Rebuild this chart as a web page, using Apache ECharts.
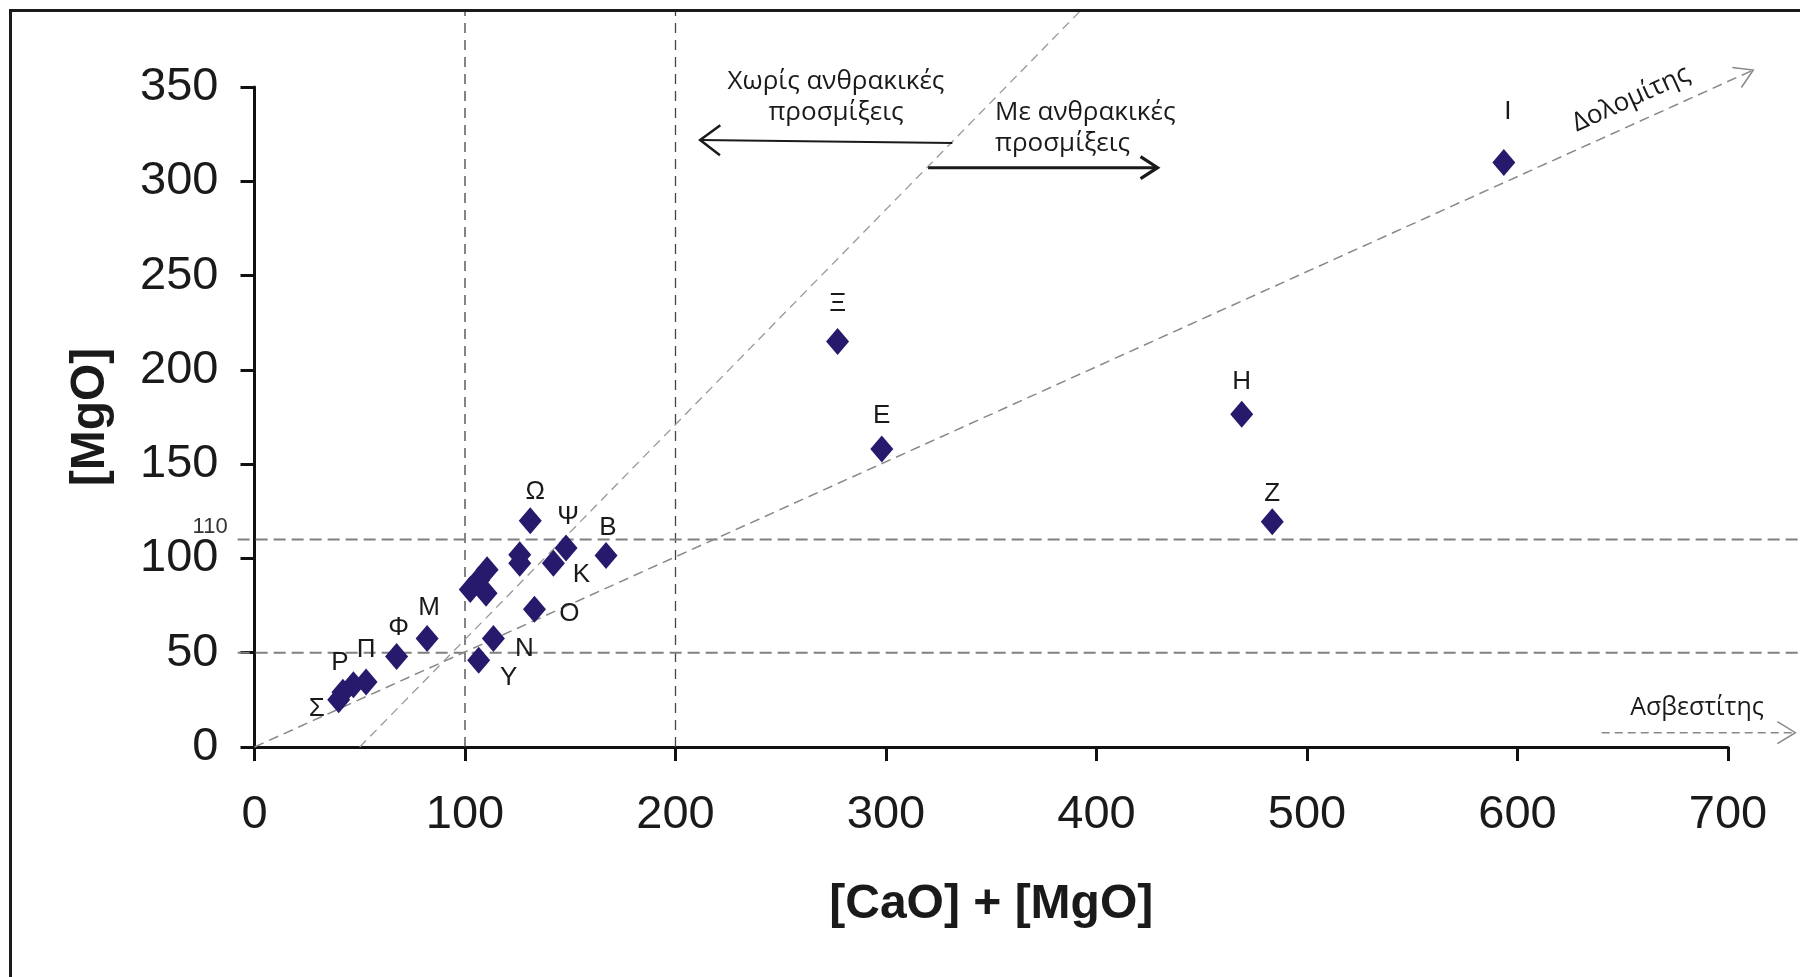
<!DOCTYPE html>
<html>
<head>
<meta charset="utf-8">
<script src="https://cdn.jsdelivr.net/npm/echarts@6/dist/echarts.min.js"></script>
<style>
  html, body { margin: 0; padding: 0; background: #ffffff; }
  #chart { width: 1800px; height: 977px; }
</style>
</head>
<body>
<div id="chart"></div>
<script>
// Samples: [CaO] + [MgO] (x) against [MgO] (y)
const sampleNames = ['Ω', 'Ψ', 'Β', 'Κ', 'Ο', 'Ν', 'Υ', 'Μ', 'Φ', 'Π', 'Ρ', 'Σ',
                     'Ξ', 'Ε', 'Η', 'Ζ', 'Ι', '', '', '', '', '', '', ''];
const caoPlusMgo  = [131, 148, 167, 142, 133, 113.5, 106.5, 82, 67.5, 53, 42, 40,
                     277, 298, 469, 483.5, 593.5, 47, 126, 126, 110.5, 102.5, 110, 106.5];
const mgoValues   = [120, 105.5, 101.5, 97.5, 73, 57.5, 46, 57.5, 48, 34.5, 29, 25,
                     215, 158, 176.5, 119.5, 310, 33, 102, 97.5, 94, 83.5, 81.5, 88.5];

// Axis ranges and tick step
const xRange = [0, 700], xStep = 100;
const yRange = [0, 350], yStep = 50;

// Guide segments, in data units: [x1, y1, x2, y2]
const dolomiteLine       = [[0, 0, 712, 359]];
const carbonateBoundary  = [[50, 0, 392, 390]];
const verticalGuides     = [[100, 0, 100, 390], [200, 0, 200, 390]];
const horizontalGuides   = [[-8, 50, 735, 50], [-8, 110, 735, 110]];
const horizontalLabels   = ['', '110'];
const calciteArrow       = [[640, 7.6, 732, 7.6]];
const withoutCarbArrow   = [[331.5, 320.3, 211.7, 321.9]];
const withCarbArrow      = [[320, 307.2, 429, 307.2]];

// Label offsets (px) around each named marker
const labelOffsets = {
  'Ω': [5, -29], 'Ψ': [2, -31], 'Β': [2, -28], 'Κ': [28, 12], 'Ο': [35, 4],
  'Ν': [31, 10], 'Υ': [30, 18], 'Μ': [2, -31], 'Φ': [2, -29], 'Π': [0, -32],
  'Ρ': [-3, -29], 'Σ': [-22, 9], 'Ξ': [0, -38], 'Ε': [0, -33], 'Η': [0, -32],
  'Ζ': [0, -28], 'Ι': [4, -51]
};

const TEXT = '#1a1a1a';
const AXIS_FONT = '"Liberation Sans", Arial, sans-serif';
const NOTE_FONT = '"Open Sans", "Noto Sans", sans-serif';

function segmentSeries(id, segments, lineStyle, opts) {
  opts = opts || {};
  return {
    type: 'custom',
    id: id,
    silent: true,
    clip: false,
    z: opts.z || 1,
    encode: { x: [0, 2], y: [1, 3] },
    data: segments,
    renderItem: function (params, api) {
      const a = api.coord([api.value(0), api.value(1)]);
      const b = api.coord([api.value(2), api.value(3)]);
      const children = [{
        type: 'line',
        shape: { x1: a[0], y1: a[1], x2: b[0], y2: b[1] },
        style: {
          stroke: lineStyle.color, lineWidth: lineStyle.width,
          lineDash: lineStyle.dash || null, fill: null
        }
      }];
      if (opts.head) {
        const dx = b[0] - a[0], dy = b[1] - a[1];
        const L = Math.sqrt(dx * dx + dy * dy);
        const ux = dx / L, uy = dy / L, nx = -uy, ny = ux;
        const h = opts.head;
        children.push({
          type: 'polyline',
          shape: { points: [
            [b[0] - ux * h.len + nx * h.w, b[1] - uy * h.len + ny * h.w],
            [b[0], b[1]],
            [b[0] - ux * h.len - nx * h.w, b[1] - uy * h.len - ny * h.w]
          ] },
          style: { stroke: lineStyle.color, lineWidth: h.lineWidth || lineStyle.width, fill: null }
        });
      }
      if (opts.labels && opts.labels[params.dataIndex]) {
        children.push({
          type: 'text',
          style: {
            text: opts.labels[params.dataIndex],
            x: a[0] - 10, y: a[1] - 2,
            align: 'right', verticalAlign: 'bottom',
            fontSize: 22, fontFamily: AXIS_FONT, fill: '#333'
          }
        });
      }
      return { type: 'group', children: children };
    }
  };
}

const scatterData = caoPlusMgo.map(function (x, i) {
  const name = sampleNames[i];
  const off = labelOffsets[name];
  return {
    value: [x, mgoValues[i]],
    name: name,
    label: off ? { show: true, position: 'inside', offset: off } : { show: false }
  };
});

const chart = echarts.init(document.getElementById('chart'), null, { renderer: 'canvas' });

chart.setOption({
  backgroundColor: '#ffffff',
  animation: false,
  grid: { left: 254.5, right: 72, top: 87, bottom: 230, containLabel: false },
  xAxis: {
    type: 'value',
    min: xRange[0], max: xRange[1], interval: xStep,
    name: '[CaO] + [MgO]',
    nameLocation: 'middle',
    nameGap: 134,
    nameTextStyle: { fontSize: 48, fontWeight: 'bold', color: TEXT, fontFamily: AXIS_FONT },
    axisLine: { show: true, onZero: false, lineStyle: { color: '#111', width: 3 } },
    axisTick: { show: true, inside: false, length: 14, lineStyle: { color: '#111', width: 3 } },
    axisLabel: { fontSize: 47, color: TEXT, fontFamily: AXIS_FONT, margin: 45 },
    splitLine: { show: false }
  },
  yAxis: {
    type: 'value',
    min: yRange[0], max: yRange[1], interval: yStep,
    name: '[MgO]',
    nameLocation: 'middle',
    nameRotate: 90,
    nameGap: 140,
    nameTextStyle: { fontSize: 48, fontWeight: 'bold', color: TEXT, fontFamily: AXIS_FONT },
    axisLine: { show: true, onZero: false, lineStyle: { color: '#111', width: 3 } },
    axisTick: { show: true, inside: false, length: 14, lineStyle: { color: '#111', width: 3 } },
    axisLabel: { fontSize: 47, color: TEXT, fontFamily: AXIS_FONT, margin: 36 },
    splitLine: { show: false }
  },
  graphic: [
    {
      type: 'rect', silent: true, z: 100,
      shape: { x: 10.5, y: 10.5, width: 1800, height: 1000 },
      style: { fill: null, stroke: '#1a1a1a', lineWidth: 3 }
    },
    {
      type: 'text', silent: true,
      style: {
        text: 'Χωρίς ανθρακικές\nπροσμίξεις', x: 836, y: 97,
        align: 'center', verticalAlign: 'middle', lineHeight: 31,
        fontSize: 26, fontFamily: NOTE_FONT, fill: TEXT
      }
    },
    {
      type: 'text', silent: true,
      style: {
        text: 'Με ανθρακικές\nπροσμίξεις', x: 995, y: 128,
        align: 'left', verticalAlign: 'middle', lineHeight: 31,
        fontSize: 26, fontFamily: NOTE_FONT, fill: TEXT
      }
    },
    {
      type: 'text', silent: true,
      style: {
        text: 'Ασβεστίτης', x: 1697, y: 708,
        align: 'center', verticalAlign: 'middle',
        fontSize: 25, fontFamily: NOTE_FONT, fill: TEXT
      }
    },
    {
      type: 'text', silent: true,
      x: 1631, y: 99, rotation: 24.5 * Math.PI / 180,
      style: {
        text: 'Δολομίτης', x: 0, y: 0,
        align: 'center', verticalAlign: 'middle',
        fontSize: 26, fontFamily: NOTE_FONT, fill: TEXT
      }
    }
  ],
  series: [
    segmentSeries('verticalGuides', verticalGuides, { color: '#444', width: 1.3, dash: [10, 7] }),
    segmentSeries('horizontalGuides', horizontalGuides, { color: '#808080', width: 2, dash: [12, 6] },
      { labels: horizontalLabels }),
    segmentSeries('carbonateBoundary', carbonateBoundary, { color: '#999', width: 1.3, dash: [9, 6] }),
    segmentSeries('dolomiteLine', dolomiteLine, { color: '#888', width: 1.5, dash: [10, 6] },
      { head: { len: 18, w: 11, lineWidth: 1.5 } }),
    segmentSeries('calciteArrow', calciteArrow, { color: '#888', width: 1.5, dash: [8, 5] },
      { head: { len: 18, w: 11, lineWidth: 1.5 } }),
    segmentSeries('withoutCarbArrow', withoutCarbArrow, { color: '#1a1a1a', width: 2.2 },
      { head: { len: 20, w: 15, lineWidth: 2.5 }, z: 3 }),
    segmentSeries('withCarbArrow', withCarbArrow, { color: '#1a1a1a', width: 3 },
      { head: { len: 17, w: 11, lineWidth: 3.2 }, z: 3 }),
    {
      type: 'scatter',
      name: 'samples',
      z: 5,
      symbol: 'diamond',
      symbolSize: [23, 27],
      itemStyle: { color: '#27196c', opacity: 1 },
      label: {
        formatter: '{b}', fontSize: 26, color: TEXT, fontFamily: AXIS_FONT
      },
      data: scatterData
    }
  ]
});
</script>
</body>
</html>
